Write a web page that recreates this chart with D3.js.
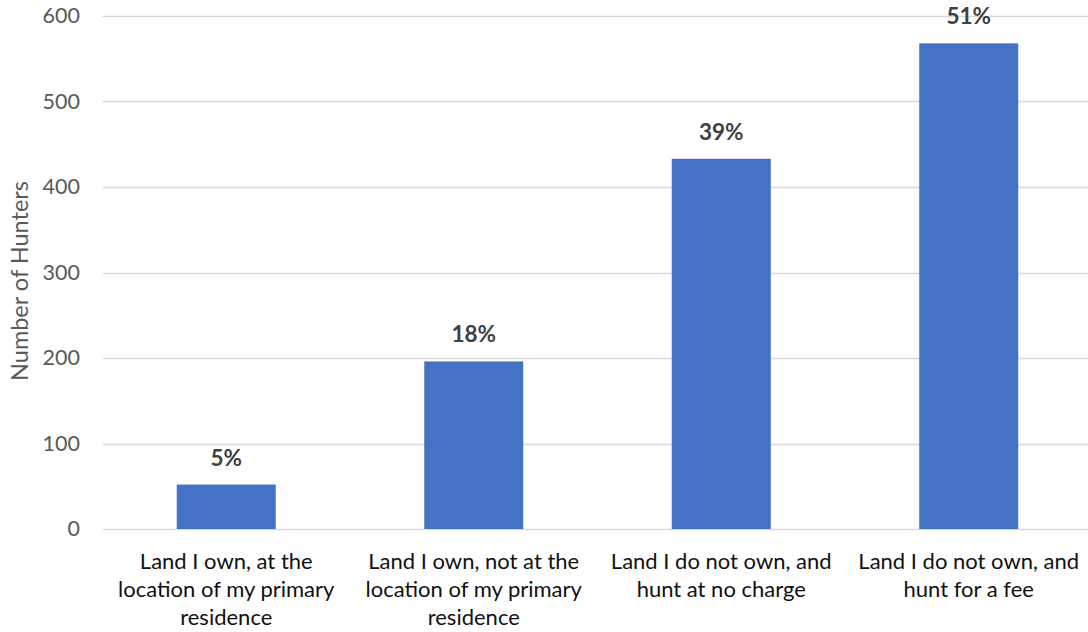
<!DOCTYPE html>
<html>
<head>
<meta charset="utf-8">
<script src="https://cdn.jsdelivr.net/npm/d3@7"></script>
<style>
  html, body { margin: 0; padding: 0; background: #fff; }
  svg { display: block; }
  text { font-family: Lato, "Open Sans", sans-serif; }
</style>
</head>
<body>
<svg id="chart" width="1088" height="632"></svg>
<script>
const categories = [
  ["Land I own, at the", "location of my primary", "residence"],
  ["Land I own, not at the", "location of my primary", "residence"],
  ["Land I do not own, and", "hunt at no charge"],
  ["Land I do not own, and", "hunt for a fee"]
];
const hunters = [52, 196, 433, 568];
const pctLabels = ["5%", "18%", "39%", "51%"];
const yTicks = [0, 100, 200, 300, 400, 500, 600];

const svg = d3.select("#chart");
const plotLeft = 102.5, plotRight = 1092.5, plotTop = 16, plotBottom = 529;

const x = d3.scaleBand()
  .domain(d3.range(categories.length))
  .range([plotLeft, plotRight])
  .paddingInner(0.6)
  .paddingOuter(0.3);

const y = d3.scaleLinear().domain([0, 600]).range([plotBottom, plotTop]);

// gridlines
svg.append("g").selectAll("line").data(yTicks).join("line")
  .attr("x1", plotLeft).attr("x2", 1088)
  .attr("y1", d => Math.round(y(d)) + 0.5).attr("y2", d => Math.round(y(d)) + 0.5)
  .attr("stroke", "#d9d9d9").attr("stroke-width", 1.5);

// y axis labels
const yAxis = d3.axisLeft(y).tickValues(yTicks).tickSize(0).tickPadding(0);
const ga = svg.append("g").attr("transform", `translate(80,0)`).call(yAxis);
ga.select(".domain").remove();
ga.selectAll("text")
  .attr("fill", "#595959")
  .style("font-size", "21.5px")
  .style("font-family", "Lato, sans-serif");

// bars
svg.append("g").selectAll("rect").data(hunters).join("rect")
  .attr("x", (d, i) => x(i))
  .attr("width", x.bandwidth())
  .attr("y", d => y(d))
  .attr("height", d => y(0) - y(d))
  .attr("fill", "#4472c4");

// data labels
svg.append("g").selectAll("text").data(hunters).join("text")
  .attr("x", (d, i) => x(i) + x.bandwidth() / 2)
  .attr("y", d => y(d) - 19)
  .attr("text-anchor", "middle")
  .attr("fill", "#404040")
  .style("font-size", "22.5px")
  .style("font-weight", "bold")
  .text((d, i) => pctLabels[i]);

// category labels
const cg = svg.append("g").selectAll("text").data(categories).join("text")
  .attr("x", (d, i) => x(i) + x.bandwidth() / 2)
  .attr("y", 569)
  .attr("text-anchor", "middle")
  .attr("fill", "#111111")
  .style("font-size", "22px");
cg.selectAll("tspan").data(d => d).join("tspan")
  .attr("x", function() { return d3.select(this.parentNode).attr("x"); })
  .attr("dy", (d, j) => j === 0 ? 0 : 28)
  .text(d => d);

// y title
svg.append("text")
  .attr("transform", "translate(28,281) rotate(-90)")
  .attr("text-anchor", "middle")
  .attr("fill", "#595959")
  .style("font-size", "23.5px")
  .text("Number of Hunters");
</script>
</body>
</html>
